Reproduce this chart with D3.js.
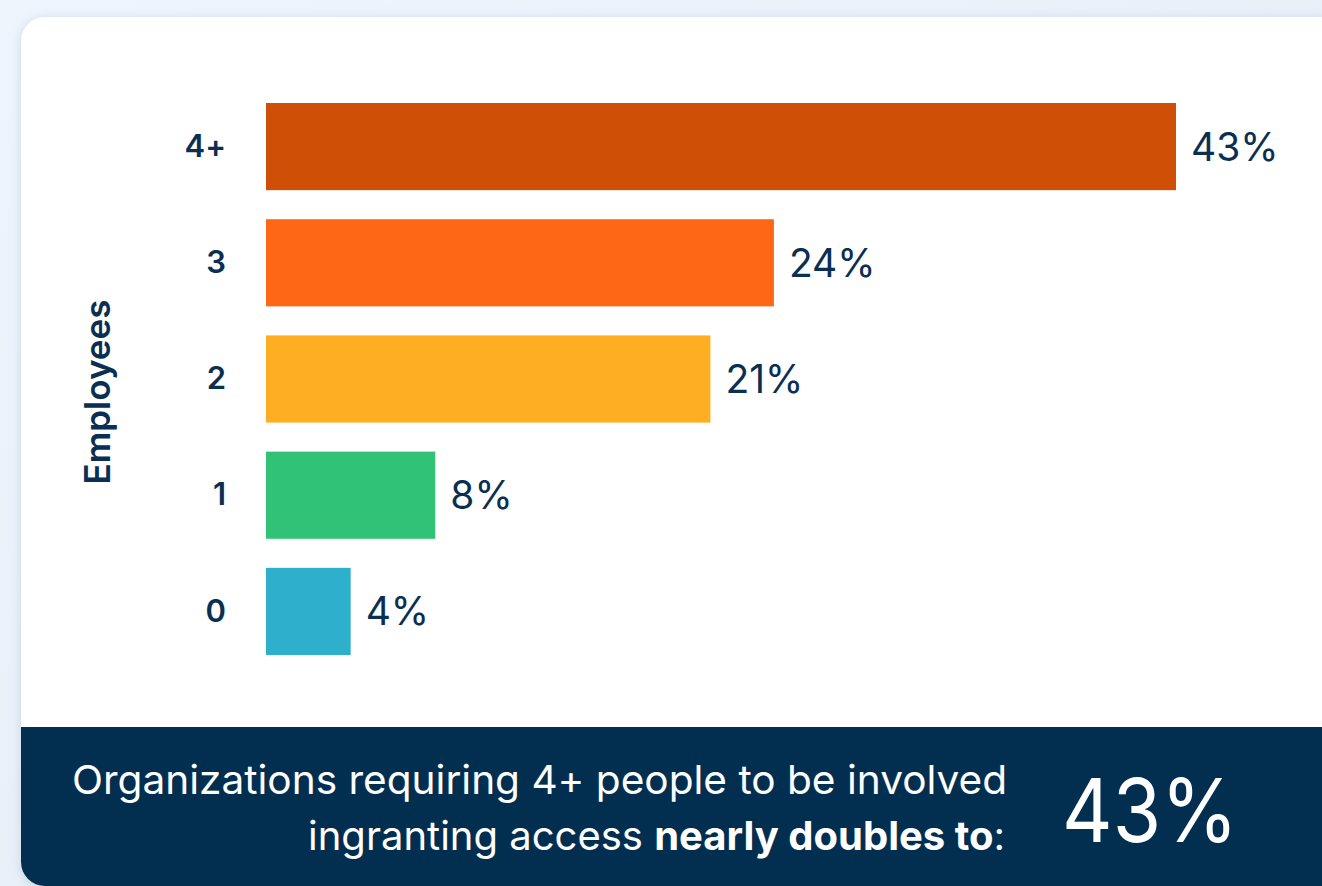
<!DOCTYPE html>
<html><head><meta charset="utf-8">
<script src="https://cdn.jsdelivr.net/npm/d3@7"></script>
<style>
html,body{margin:0;padding:0;background:#eaf1f9;overflow:hidden;}
svg{display:block;}
text{font-variant-ligatures:none;}
</style></head>
<body>
<svg id="chart" width="1322" height="886"></svg>
<script>
const categories = ["4+", "3", "2", "1", "0"];
const values = [43, 24, 21, 8, 4];
const colors = ["#cf4f06", "#fd6716", "#feae22", "#30c275", "#2eafcc"];
const axisTitle = "Employees";
const footerLine1 = "Organizations requiring 4+ people to be involved";
const footerLine2a = "ingranting access ";
const footerLine2b = "nearly doubles to";
const footerLine2c = ":";
const headline = "43%";

const FONT = "Inter, 'Open Sans', sans-serif";
const NAVY = "#0b2f52";
const svg = d3.select("#chart");
const defs = svg.append("defs");
const bg = defs.append("linearGradient").attr("id","bg").attr("x1",0).attr("y1",0).attr("x2",1).attr("y2",1);
bg.append("stop").attr("offset","0%").attr("stop-color","#eef5fd");
bg.append("stop").attr("offset","100%").attr("stop-color","#e3ebf4");
const sh = defs.append("filter").attr("id","sh").attr("x","-10%").attr("y","-10%").attr("width","120%").attr("height","120%");
sh.append("feDropShadow").attr("dx",0).attr("dy",2).attr("stdDeviation",6).attr("flood-color","#9fb3c8").attr("flood-opacity",0.45);
const clip = defs.append("clipPath").attr("id","cardclip");
clip.append("rect").attr("x",21).attr("y",17).attr("width",1340).attr("height",869).attr("rx",24);

svg.append("rect").attr("width",1322).attr("height",886).attr("fill","url(#bg)");
svg.append("rect").attr("x",21).attr("y",17).attr("width",1340).attr("height",869).attr("rx",24).attr("fill","#fff").attr("filter","url(#sh)");
const g0 = svg.append("g").attr("clip-path","url(#cardclip)");
g0.append("rect").attr("x",21).attr("y",727).attr("width",1340).attr("height",159).attr("fill","#022e50");

const x = d3.scaleLinear().domain([0, 43]).range([266, 1176]);
const y = d3.scaleBand().domain(categories).range([103, 655]).paddingInner(0.25).paddingOuter(0);

const g = svg.append("g");
g.selectAll("rect.bar").data(values).join("rect").attr("class","bar")
  .attr("x", x(0))
  .attr("y", (d,i)=>y(categories[i]))
  .attr("width", d=>x(d)-x(0))
  .attr("height", y.bandwidth())
  .attr("fill", (d,i)=>colors[i]);

g.selectAll("text.val").data(values).join("text").attr("class","val")
  .attr("x", d=>x(d)+15)
  .attr("y", (d,i)=>y(categories[i])+y.bandwidth()/2)
  .attr("dy","0.36em")
  .attr("font-family",FONT).attr("font-size",39).attr("fill",NAVY)
  .text(d=>d+"%");

const yAxis = d3.axisLeft(y).tickSize(0).tickPadding(0);
const ya = g.append("g").attr("transform","translate(226,0)").call(yAxis);
ya.select(".domain").remove();
ya.selectAll("text").attr("font-family",FONT).attr("font-size",31).attr("font-weight",600).attr("fill",NAVY).attr("dy","0.33em");

g.append("text").attr("transform","translate(110,392) rotate(-90)")
  .attr("text-anchor","middle").attr("font-family",FONT).attr("font-size",35).attr("font-weight",600).attr("fill",NAVY)
  .text(axisTitle);

svg.append("text").attr("x",1007).attr("y",794).attr("text-anchor","end")
  .attr("textLength",935).attr("lengthAdjust","spacingAndGlyphs")
  .attr("font-family",FONT).attr("font-size",40).attr("fill","#fff").text(footerLine1);
const t2 = svg.append("text").attr("x",1005).attr("y",850).attr("text-anchor","end")
  .attr("font-family",FONT).attr("font-size",40).attr("fill","#fff");
t2.append("tspan").text(footerLine2a);
t2.append("tspan").attr("font-weight",700).text(footerLine2b);
t2.append("tspan").text(footerLine2c);
svg.append("text").attr("x",1062).attr("y",842)
  .attr("textLength",176).attr("lengthAdjust","spacingAndGlyphs")
  .attr("font-family",FONT).attr("font-size",88).attr("fill","#fff").text(headline);
</script>
</body></html>
